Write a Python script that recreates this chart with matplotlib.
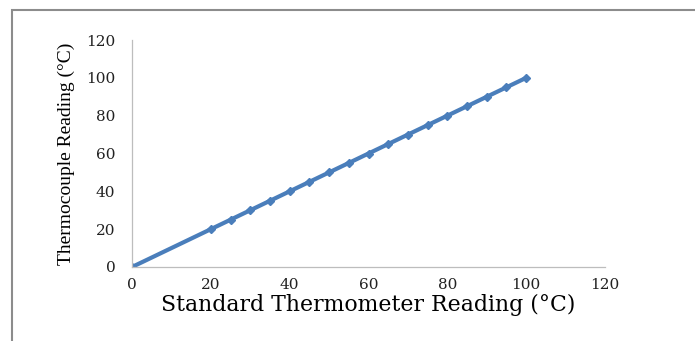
import numpy as np
import matplotlib
matplotlib.use("Agg")
from matplotlib import pyplot as plt
from matplotlib.patches import Rectangle

# standard thermometer vs thermocouple readings (deg C)
standard = [0, 20, 25, 30, 35, 40, 45, 50, 55, 60, 65, 70, 75, 80, 85, 90, 95, 100]
thermocouple = [0, 20, 25, 30, 35, 40, 45, 50, 55, 60, 65, 70, 75, 80, 85, 90, 95, 100]
xticks = [0, 20, 40, 60, 80, 100, 120]
yticks = [0, 20, 40, 60, 80, 100, 120]

fig = plt.figure(figsize=(6.95, 3.41), dpi=100)
ax = fig.add_axes([132 / 695, 1 - 267 / 341, (605 - 132) / 695, (267 - 40) / 341])

ax.plot(standard, thermocouple, color="#4A7EBB", lw=3.0, marker="D", ms=4.5,
        solid_capstyle="round")

ax.set_xlim(0, 120)
ax.set_ylim(0, 120)
ax.set_xticks(xticks)
ax.set_yticks(yticks)
for sp in ["top", "right"]:
    ax.spines[sp].set_visible(False)
for sp in ["left", "bottom"]:
    ax.spines[sp].set_color("#BDBDBD")
    ax.spines[sp].set_linewidth(0.9)
ax.tick_params(length=0, labelsize=11, colors="#222222",
               labelfontfamily="DejaVu Serif")
ax.tick_params(axis="y", pad=12)
ax.tick_params(axis="x", pad=8)

ax.set_xlabel("Standard Thermometer Reading (°C)", family="DejaVu Serif",
              fontsize=15.8, labelpad=1)
ax.set_ylabel("Thermocouple Reading (°C)", family="Liberation Serif",
              fontsize=14, labelpad=8)

# gray frame around the chart area
fig.patches.append(Rectangle((12 / 695, -0.1), 1.1, 1 - 10 / 341 + 0.1,
                             transform=fig.transFigure, fill=False,
                             edgecolor="#8C8C8C", lw=1.5))

fig.savefig("out.png", dpi=100)
